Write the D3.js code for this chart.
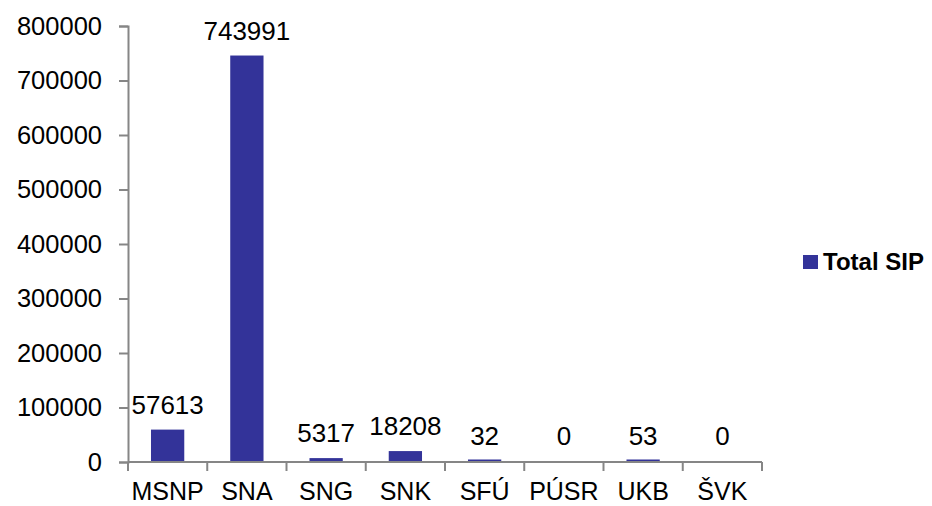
<!DOCTYPE html>
<html>
<head>
<meta charset="utf-8">
<script src="https://cdn.jsdelivr.net/npm/d3@7"></script>
<style>
  body { margin: 0; background: #fff; }
  text { font-family: "Liberation Sans", Arial, sans-serif; fill: #000; }
</style>
</head>
<body>
<div id="chart"></div>
<script>
const categories = ["MSNP", "SNA", "SNG", "SNK", "SFÚ", "PÚSR", "UKB", "ŠVK"];
const totalSIP = [57613, 743991, 5317, 18208, 32, 0, 53, 0];
const yTicks = [0, 100000, 200000, 300000, 400000, 500000, 600000, 700000, 800000];
const seriesName = "Total SIP";

const width = 932;
const height = 506;
const barColor = "#333399";
const axisColor = "#868686";

const svg = d3.select("#chart").append("svg")
  .attr("width", width)
  .attr("height", height);

const x = d3.scaleBand()
  .domain(categories)
  .range([128, 762])
  .paddingInner(0.58)
  .paddingOuter(0.29);

const y = d3.scaleLinear()
  .domain([0, 800000])
  .range([462, 26]);

// y axis
const yAxis = svg.append("g")
  .attr("transform", "translate(128,0)")
  .call(d3.axisLeft(y).tickValues(yTicks).tickSize(9).tickPadding(17).tickFormat(d3.format("d")));
yAxis.select(".domain").attr("stroke", axisColor).attr("stroke-width", 2);
yAxis.selectAll(".tick line").attr("stroke", axisColor).attr("stroke-width", 2);
yAxis.selectAll("text").style("font-size", "25.5px").attr("fill", "#000");

// x axis line and boundary ticks
const step = x.step();
const x0 = x.range()[0];
svg.append("line")
  .attr("x1", x0).attr("x2", x.range()[1])
  .attr("y1", y(0)).attr("y2", y(0))
  .attr("stroke", axisColor).attr("stroke-width", 2);
svg.append("g").selectAll("line")
  .data(d3.range(categories.length + 1))
  .join("line")
  .attr("x1", i => x0 + i * step).attr("x2", i => x0 + i * step)
  .attr("y1", y(0)).attr("y2", y(0) + 9)
  .attr("stroke", axisColor).attr("stroke-width", 2);

// bars (tiny non-zero values still show a hairline, as in the original)
const barH = v => v > 0 ? Math.max(1.5, y(0) - y(v)) : 0;
svg.append("g").selectAll("rect")
  .data(categories)
  .join("rect")
  .attr("x", (d) => x(d))
  .attr("width", x.bandwidth())
  .attr("y", (d, i) => y(0) - barH(totalSIP[i]) - 1)
  .attr("height", (d, i) => barH(totalSIP[i]))
  .attr("fill", barColor);

// data labels
svg.append("g").selectAll("text")
  .data(categories)
  .join("text")
  .attr("x", (d) => x(d) + x.bandwidth() / 2)
  .attr("y", (d, i) => y(totalSIP[i]) - 17)
  .attr("text-anchor", "middle")
  .style("font-size", "26px")
  .text((d, i) => totalSIP[i]);

// category labels
svg.append("g").selectAll("text")
  .data(categories)
  .join("text")
  .attr("x", (d) => x(d) + x.bandwidth() / 2)
  .attr("y", 500)
  .attr("text-anchor", "middle")
  .style("font-size", "25px")
  .text(d => d);

// legend
const legend = svg.append("g");
legend.append("rect")
  .attr("x", 803).attr("y", 255)
  .attr("width", 15).attr("height", 14)
  .attr("fill", barColor);
legend.append("text")
  .attr("x", 823).attr("y", 270)
  .style("font-size", "24px")
  .style("font-weight", "bold")
  .text(seriesName);
</script>
</body>
</html>
